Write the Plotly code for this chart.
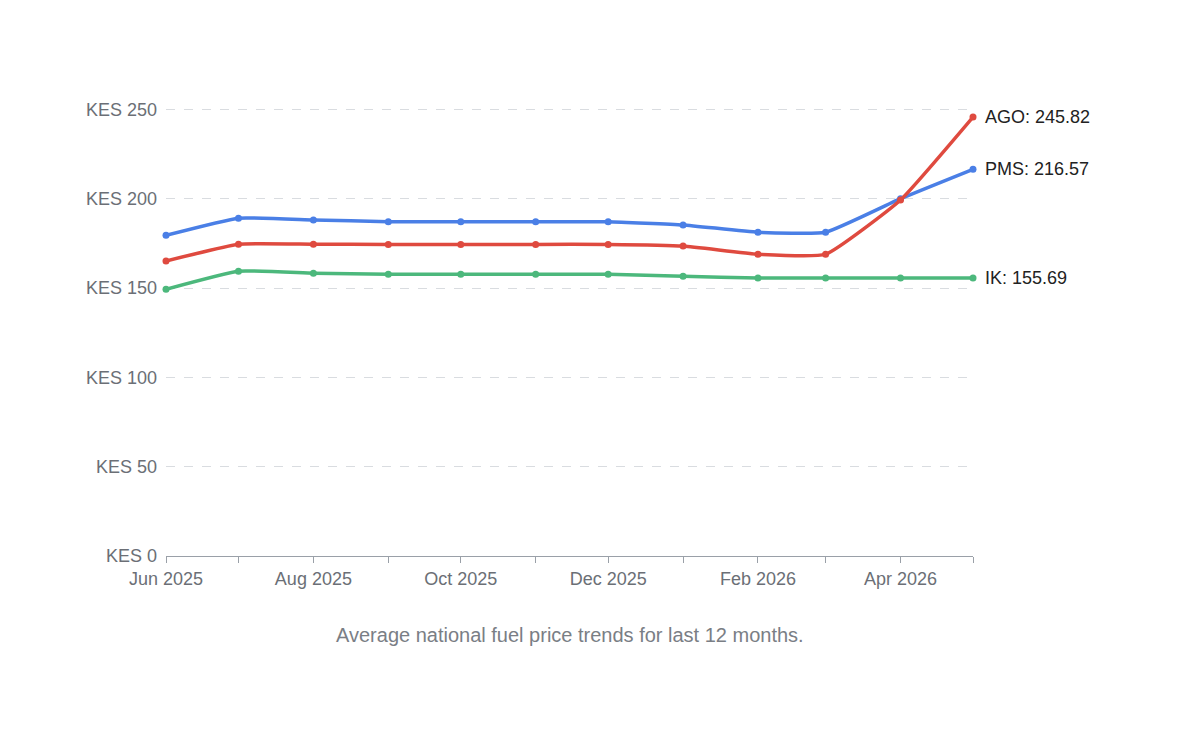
import plotly.graph_objects as go

months = ["2025-06-01", "2025-07-01", "2025-08-01", "2025-09-01", "2025-10-01", "2025-11-01",
          "2025-12-01", "2026-01-01", "2026-02-01", "2026-03-01", "2026-04-01", "2026-05-01"]
pms = [179.6, 189.2, 188.2, 187.2, 187.2, 187.2, 187.2, 185.4, 181.3, 181.3, 200.1, 216.57]
ago = [165.2, 174.6, 174.6, 174.5, 174.5, 174.5, 174.5, 173.6, 169.0, 169.0, 199.4, 245.82]
ik = [149.4, 159.5, 158.4, 157.8, 157.8, 157.8, 157.8, 156.6, 155.69, 155.69, 155.69, 155.69]

series = [("PMS", pms, "#4a7fe6"), ("AGO", ago, "#df4a3f"), ("IK", ik, "#4cb87c")]

fig = go.Figure()
for name, vals, color in series:
    fig.add_trace(go.Scatter(
        x=months, y=vals, name=name, mode="lines+markers",
        line=dict(color=color, width=3.5, shape="spline", smoothing=0.4),
        marker=dict(size=7, color=color), cliponaxis=False,
    ))
    fig.add_annotation(x=months[-1], y=vals[-1], text=f"{name}: {vals[-1]:.2f}",
                       xanchor="left", xshift=10, showarrow=False,
                       font=dict(size=18, color="#222"))

fig.add_annotation(x=0.5, y=-0.205, xref="paper", yref="paper", showarrow=False,
                   text="Average national fuel price trends for last 12 months.",
                   font=dict(size=20, color="#7a7e85"))

fig.update_layout(
    width=1200, height=745, showlegend=False,
    paper_bgcolor="white", plot_bgcolor="white",
    margin=dict(l=158, r=235, t=98, b=197),
    font=dict(family="Liberation Sans, Arial, sans-serif", size=18, color="#6b6f76"),
    xaxis=dict(type="date", range=["2025-06-01", "2026-05-01"], dtick="M2",
               tick0="2025-06-01", tickformat="%b %Y", showgrid=False,
               showline=True, linecolor="#9aa0a8", ticks="outside", ticklen=6,
               tickcolor="#9aa0a8", minor=dict(dtick="M1", ticks="outside", ticklen=6,
                                               tickcolor="#9aa0a8", showgrid=False)),
    yaxis=dict(range=[0, 252], dtick=50, tickprefix="KES ", showgrid=True,
               gridcolor="#d9dce0", griddash="dash", zeroline=False, ticklen=0,
               ticklabelstandoff=8),
)
fig.write_html("out.html")
